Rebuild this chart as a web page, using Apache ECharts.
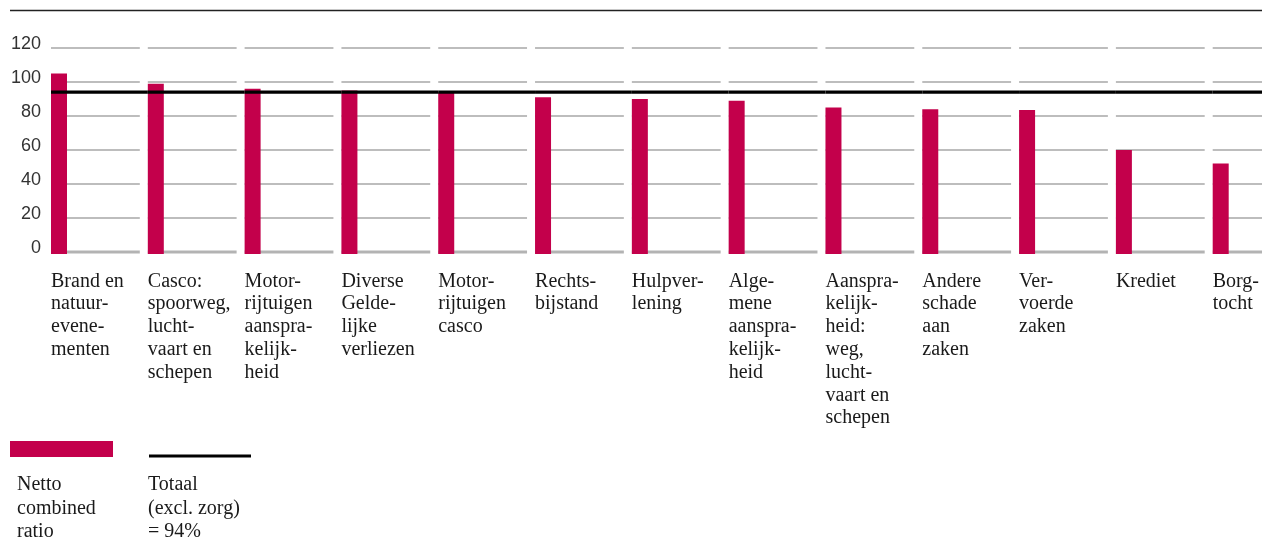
<!DOCTYPE html>
<html>
<head>
<meta charset="utf-8">
<script src="https://cdn.jsdelivr.net/npm/echarts@6/dist/echarts.min.js"></script>
<style>
html,body{margin:0;padding:0;background:#fff;}
#chart{width:1262px;height:559px;}
</style>
</head>
<body>
<div id="chart"></div>
<script>
// ---- data ----
const categories = [
  'Brand en\nnatuur-\nevene-\nmenten',
  'Casco:\nspoorweg,\nlucht-\nvaart en\nschepen',
  'Motor-\nrijtuigen\naanspra-\nkelijk-\nheid',
  'Diverse\nGelde-\nlijke\nverliezen',
  'Motor-\nrijtuigen\ncasco',
  'Rechts-\nbijstand',
  'Hulpver-\nlening',
  'Alge-\nmene\naanspra-\nkelijk-\nheid',
  'Aanspra-\nkelijk-\nheid:\nweg,\nlucht-\nvaart en\nschepen',
  'Andere\nschade\naan\nzaken',
  'Ver-\nvoerde\nzaken',
  'Krediet',
  'Borg-\ntocht'
];
const combinedRatio = [105, 99, 96, 95, 94, 91, 90, 89, 85, 84, 83.5, 60, 52];
const totalValue = 94;
const yTicks = [0, 20, 40, 60, 80, 100, 120];
const legendLabels = ['Netto\ncombined\nratio', 'Totaal\n(excl. zorg)\n= 94%'];

// ---- styles ----
const BAR_COLOR = '#c3004b';
const GRID_COLOR = '#bdbdbd';
const ZERO_COLOR = '#b3b3b3';
const SERIF = '"Liberation Serif", "Times New Roman", serif';
const SANS = '"Liberation Sans", Arial, sans-serif';

const chart = echarts.init(document.getElementById('chart'), null, {renderer: 'canvas'});

const idx = categories.map((c, i) => i);

const option = {
  animation: false,
  grid: {left: 51, top: 48, width: 1162, height: 204, containLabel: false},
  xAxis: {
    type: 'category',
    data: categories,
    boundaryGap: false,
    axisLine: {show: false},
    axisTick: {show: false},
    splitLine: {show: false},
    axisLabel: {
      interval: 0,
      align: 'left',
      verticalAlign: 'top',
      margin: 18,
      fontFamily: SERIF,
      fontSize: 20,
      lineHeight: 22.8,
      color: '#1a1a1a'
    }
  },
  yAxis: {
    type: 'value',
    min: yTicks[0],
    max: yTicks[yTicks.length - 1],
    interval: yTicks[1] - yTicks[0],
    axisLine: {show: false},
    axisTick: {show: false},
    splitLine: {show: false},
    axisLabel: {
      margin: 10,
      fontFamily: SANS,
      fontSize: 18,
      color: '#333333',
      verticalAlign: 'bottom',
      lineHeight: 8
    }
  },
  graphic: [
    {type: 'line', z: 10, shape: {x1: 10, y1: 10.5, x2: 1262, y2: 10.5}, style: {stroke: '#222', lineWidth: 1.5}},
    {type: 'rect', z: 10, shape: {x: 10, y: 441, width: 103, height: 16}, style: {fill: BAR_COLOR}},
    {type: 'line', z: 10, shape: {x1: 149, y1: 456, x2: 251, y2: 456}, style: {stroke: '#000', lineWidth: 3}},
    {type: 'text', z: 10, left: 17, top: 473, style: {text: legendLabels[0], font: '20px ' + SERIF, lineHeight: 23.5, fill: '#1a1a1a'}},
    {type: 'text', z: 10, left: 148, top: 473, style: {text: legendLabels[1], font: '20px ' + SERIF, lineHeight: 23.5, fill: '#1a1a1a'}}
  ],
  series: [
    {
      // per-category gridline segments
      type: 'custom',
      z: 1,
      silent: true,
      data: idx,
      renderItem: function (params, api) {
        const i = api.value(0);
        const step = api.size([1, 0])[0];
        const x0 = api.coord([i, 0])[0];
        const children = yTicks.map(function (t) {
          const y = api.coord([i, t])[1];
          const isZero = t === 0;
          return {
            type: 'line',
            shape: {x1: x0, y1: y, x2: x0 + step - 8, y2: y},
            style: {stroke: isZero ? ZERO_COLOR : GRID_COLOR, lineWidth: isZero ? 3 : 2}
          };
        });
        return {type: 'group', children: children};
      },
      encode: {x: 0}
    },
    {
      name: 'Netto combined ratio',
      type: 'custom',
      z: 2,
      data: combinedRatio.map((v, i) => [i, v]),
      renderItem: function (params, api) {
        const top = api.coord([api.value(0), api.value(1)]);
        const base = api.coord([api.value(0), 0]);
        return {
          type: 'rect',
          shape: {x: top[0], y: top[1], width: 16, height: base[1] - top[1] + 2},
          style: {fill: BAR_COLOR}
        };
      },
      encode: {x: 0, y: 1}
    },
    {
      name: 'Totaal',
      type: 'custom',
      z: 3,
      data: idx.map(i => [i, totalValue]),
      renderItem: function (params, api) {
        const p = api.coord([api.value(0), api.value(1)]);
        const step = api.size([1, 0])[0];
        return {
          type: 'line',
          shape: {x1: p[0], y1: p[1], x2: p[0] + step, y2: p[1]},
          style: {stroke: '#000', lineWidth: 3.3}
        };
      },
      encode: {x: 0, y: 1}
    }
  ]
};

chart.setOption(option);
</script>
</body>
</html>
